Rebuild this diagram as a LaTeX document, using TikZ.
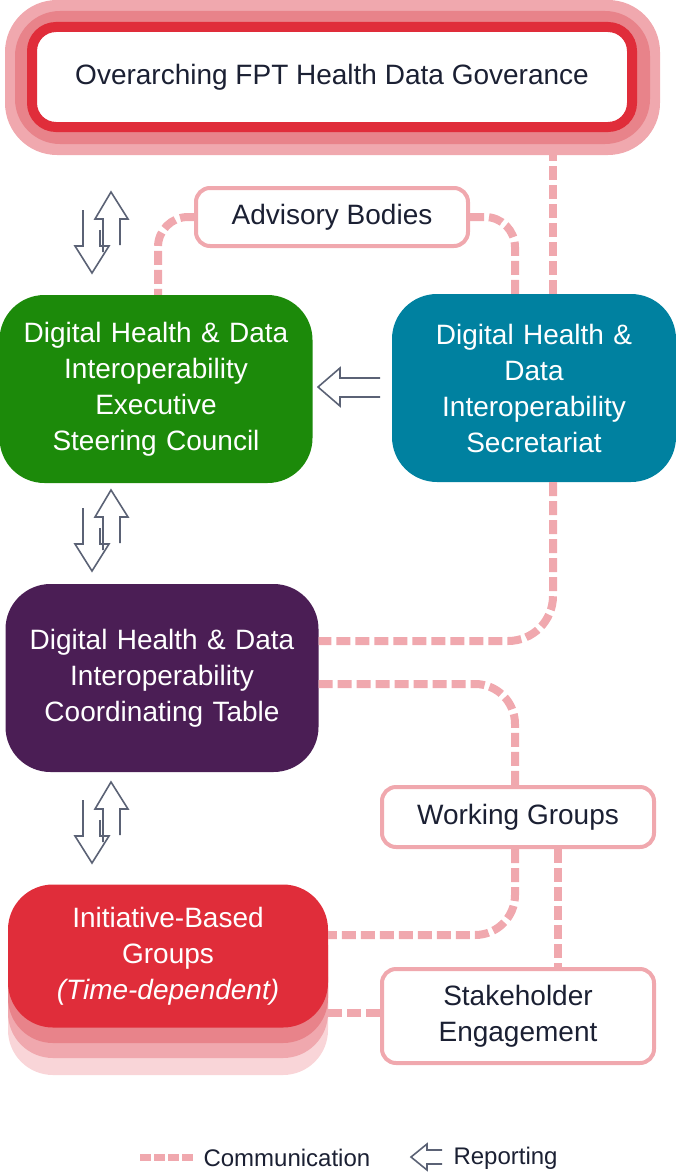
\documentclass[tikz,border=0pt]{standalone}
\usepackage{fontspec}
\setmainfont{Liberation Sans}
\usetikzlibrary{positioning}
\definecolor{commpink}{HTML}{F0A8AE}
\definecolor{midpink}{HTML}{E8838A}
\definecolor{govred}{HTML}{E02D3A}
\definecolor{palepink}{HTML}{F9D5D8}
\definecolor{execgreen}{HTML}{1C8A0A}
\definecolor{secteal}{HTML}{0081A0}
\definecolor{coordpurple}{HTML}{4B1E55}
\definecolor{arrowgray}{HTML}{5B6275}
\definecolor{inkdark}{HTML}{1B2033}
\begin{document}
\begin{tikzpicture}[
			x=1pt, y=-1pt,
			font=\fontsize{28}{36}\selectfont,
			box/.style={
					rectangle,
					rounded corners=45pt,
					minimum width=313pt,
					minimum height=188pt,
					text width=300pt,
					align=center,
					text=white
				},
			pinkbox/.style={
					rectangle,
					rounded corners=14pt,
					draw=commpink,
					line width=4pt,
					fill=white,
					text=inkdark,
					align=center
				},
			comm/.style={commpink, line width=8pt, dash pattern=on 14pt off 5pt},
			report/.style={arrowgray, line width=1.6pt, line join=miter}
		]
		\useasboundingbox (0,0) rectangle (676,1172);

		% Top governance band
		\fill[commpink, rounded corners=52pt] (5,0) rectangle (660,155);
		\fill[midpink, rounded corners=45pt] (15,11) rectangle (650,144);
		\node[draw=govred, line width=10pt, fill=white, rounded corners=24pt,
			minimum width=600pt, minimum height=100pt, text=inkdark] (gov) at (332,77)
			{Overarching FPT Health Data Goverance};

		% Boxes
		\node[pinkbox, minimum width=272pt, minimum height=58pt] (advisory) at (332,217) {Advisory Bodies};
		\node[box, fill=execgreen] (exec) at (156,389) {Digital Health \& Data\\Interoperability\\Executive\\Steering Council};
		\node[box, fill=secteal, minimum width=284pt, text width=250pt] (secr) at (534,388) {Digital Health \&\\Data\\Interoperability\\Secretariat};
		\node[box, fill=coordpurple] (coord) at (162,678) {Digital Health \& Data\\Interoperability\\Coordinating Table};
		\node[pinkbox, minimum width=272pt, minimum height=60pt] (working) at (518,817) {Working Groups};
		% stacked layers under the initiative groups
		\fill[palepink, rounded corners=45pt] (8,932) rectangle (328,1075);
		\fill[commpink, rounded corners=45pt] (8,915) rectangle (328,1058);
		\fill[midpink, rounded corners=45pt] (8,900) rectangle (328,1043);
		\node[box, fill=govred, minimum width=320pt, minimum height=143pt] (initiative) at (168,956) {Initiative-Based\\Groups\\\textit{(Time-dependent)}};
		\node[pinkbox, minimum width=272pt, minimum height=94pt] (stake) at (518,1016) {Stakeholder\\Engagement};

		% Communication lines
		\draw[comm] ([xshift=19pt]secr.north) -- ([xshift=19pt,yshift=-23pt]secr.north |- gov.south);
		\draw[comm, rounded corners=30pt] (advisory.west) -| ([xshift=2pt]exec.north);
		\draw[comm, rounded corners=30pt] (advisory.east) -| ([xshift=-19pt]secr.north);
		\draw[comm, rounded corners=45pt] ([xshift=19pt]secr.south) |- ([yshift=37pt]coord.east);
		\draw[comm, rounded corners=40pt] ([yshift=-6pt]coord.east) -| ([xshift=-3pt]working.north);
		\draw[comm, rounded corners=40pt] ([xshift=-3pt]working.south) |- ([yshift=21pt]initiative.east);
		\draw[comm] ([xshift=40pt]working.south) -- ([xshift=40pt]stake.north);
		\draw[comm] ([yshift=-57pt]initiative.east) -- (stake.west |- 0,1013);

		% Reporting arrows
		\foreach \dy in {0,298,590} {
			\draw[report] (120,245+\dy) -- (120,219+\dy) -- (128,219+\dy) -- (111,192+\dy) -- (95,219+\dy) -- (103,219+\dy) -- (103,252+\dy);
			\draw[report] (83,210+\dy) -- (83,246+\dy) -- (75,246+\dy) -- (92,273+\dy) -- (109,246+\dy) -- (100,246+\dy) -- (100,230+\dy);
		}
		\draw[report] (380,378) -- (340,378) -- (340,368) -- (318,387) -- (340,406) -- (340,397) -- (380,397);

		% Legend
		\draw[comm, line width=7pt, dash pattern=on 11pt off 3pt] (140,1157) -- (195,1157);
		\node[anchor=west, text=inkdark, font=\fontsize{24}{28}\selectfont] (legcomm) at (200,1158) {Communication};
		\draw[report] (442,1150) -- (427,1150) -- (427,1144) -- (411,1157) -- (427,1170) -- (427,1164) -- (442,1164);
		\node[anchor=west, text=inkdark, font=\fontsize{24}{28}\selectfont] (legrep) at (450,1158) {Reporting};
	\end{tikzpicture}
\end{document}
